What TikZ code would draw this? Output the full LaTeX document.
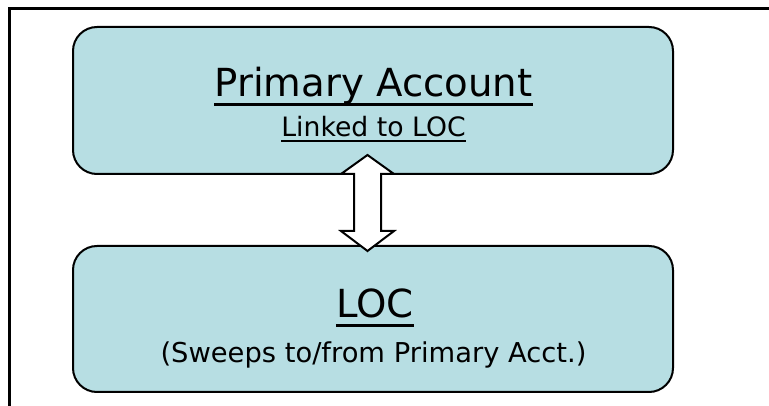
\documentclass[tikz,border=0pt]{standalone}
\usepackage{fontspec}
\setmainfont{DejaVu Sans}
\usetikzlibrary{calc}
\definecolor{boxfill}{RGB}{183,222,227}

\begin{document}
\begin{tikzpicture}[x=0.75pt,y=-0.75pt,
  card/.style={draw=black, line width=1.5pt, fill=boxfill, rounded corners=18pt,
               minimum width=450pt, inner sep=0pt},
  title/.style={inner sep=0pt, anchor=base, font=\fontsize{29}{34}\selectfont},
  sub/.style={inner sep=0pt, anchor=base, font=\fontsize{20}{24}\selectfont},
  thickul/.style={line width=2.25pt},
  thinul/.style={line width=1.1pt},
  link/.style={draw=black, fill=white, line width=1.5pt}]
\useasboundingbox (0,0) rectangle (769,406);

% frame
\draw[line width=2.25pt] (9,410) -- (9,9) -- (772,9);

% boxes
\node[card, minimum height=110.25pt] (top) at (373,100.5) {};
\node[card, minimum height=109.5pt] (bot) at (373,319) {};

% labels
\node[title] (toptitle) at (373.5,97) {Primary Account};
\node[sub] (topsub) at (373.5,137) {Linked to LOC};
\node[title] (bottitle) at (375,318) {LOC};
\node[sub, font=\fontsize{20.5}{24}\selectfont] (botsub) at (373.5,363) {(Sweeps to/from Primary Acct.)};

% underlines
\draw[thickul] ($(toptitle.base west)+(0,8)$) -- ($(toptitle.base east)+(0,8)$);
\draw[thinul] ($(topsub.base west)+(0,4)$) -- ($(topsub.base east)+(0,4)$);
\draw[thickul] ($(bottitle.base west)+(0,8)$) -- ($(bottitle.base east)+(0,8)$);

% two-way arrow between the boxes
\coordinate (ac) at ($(top.south)!0.5!(bot.north)+(-5.5,-7)$);
\draw[link, shift={(ac)}] (0,-48) -- (26.5,-29) -- (13.5,-29) -- (13.5,28)
  -- (26.5,28) -- (0,48) -- (-26.5,28) -- (-13.5,28) -- (-13.5,-29)
  -- (-26.5,-29) -- cycle;
\end{tikzpicture}
\end{document}
